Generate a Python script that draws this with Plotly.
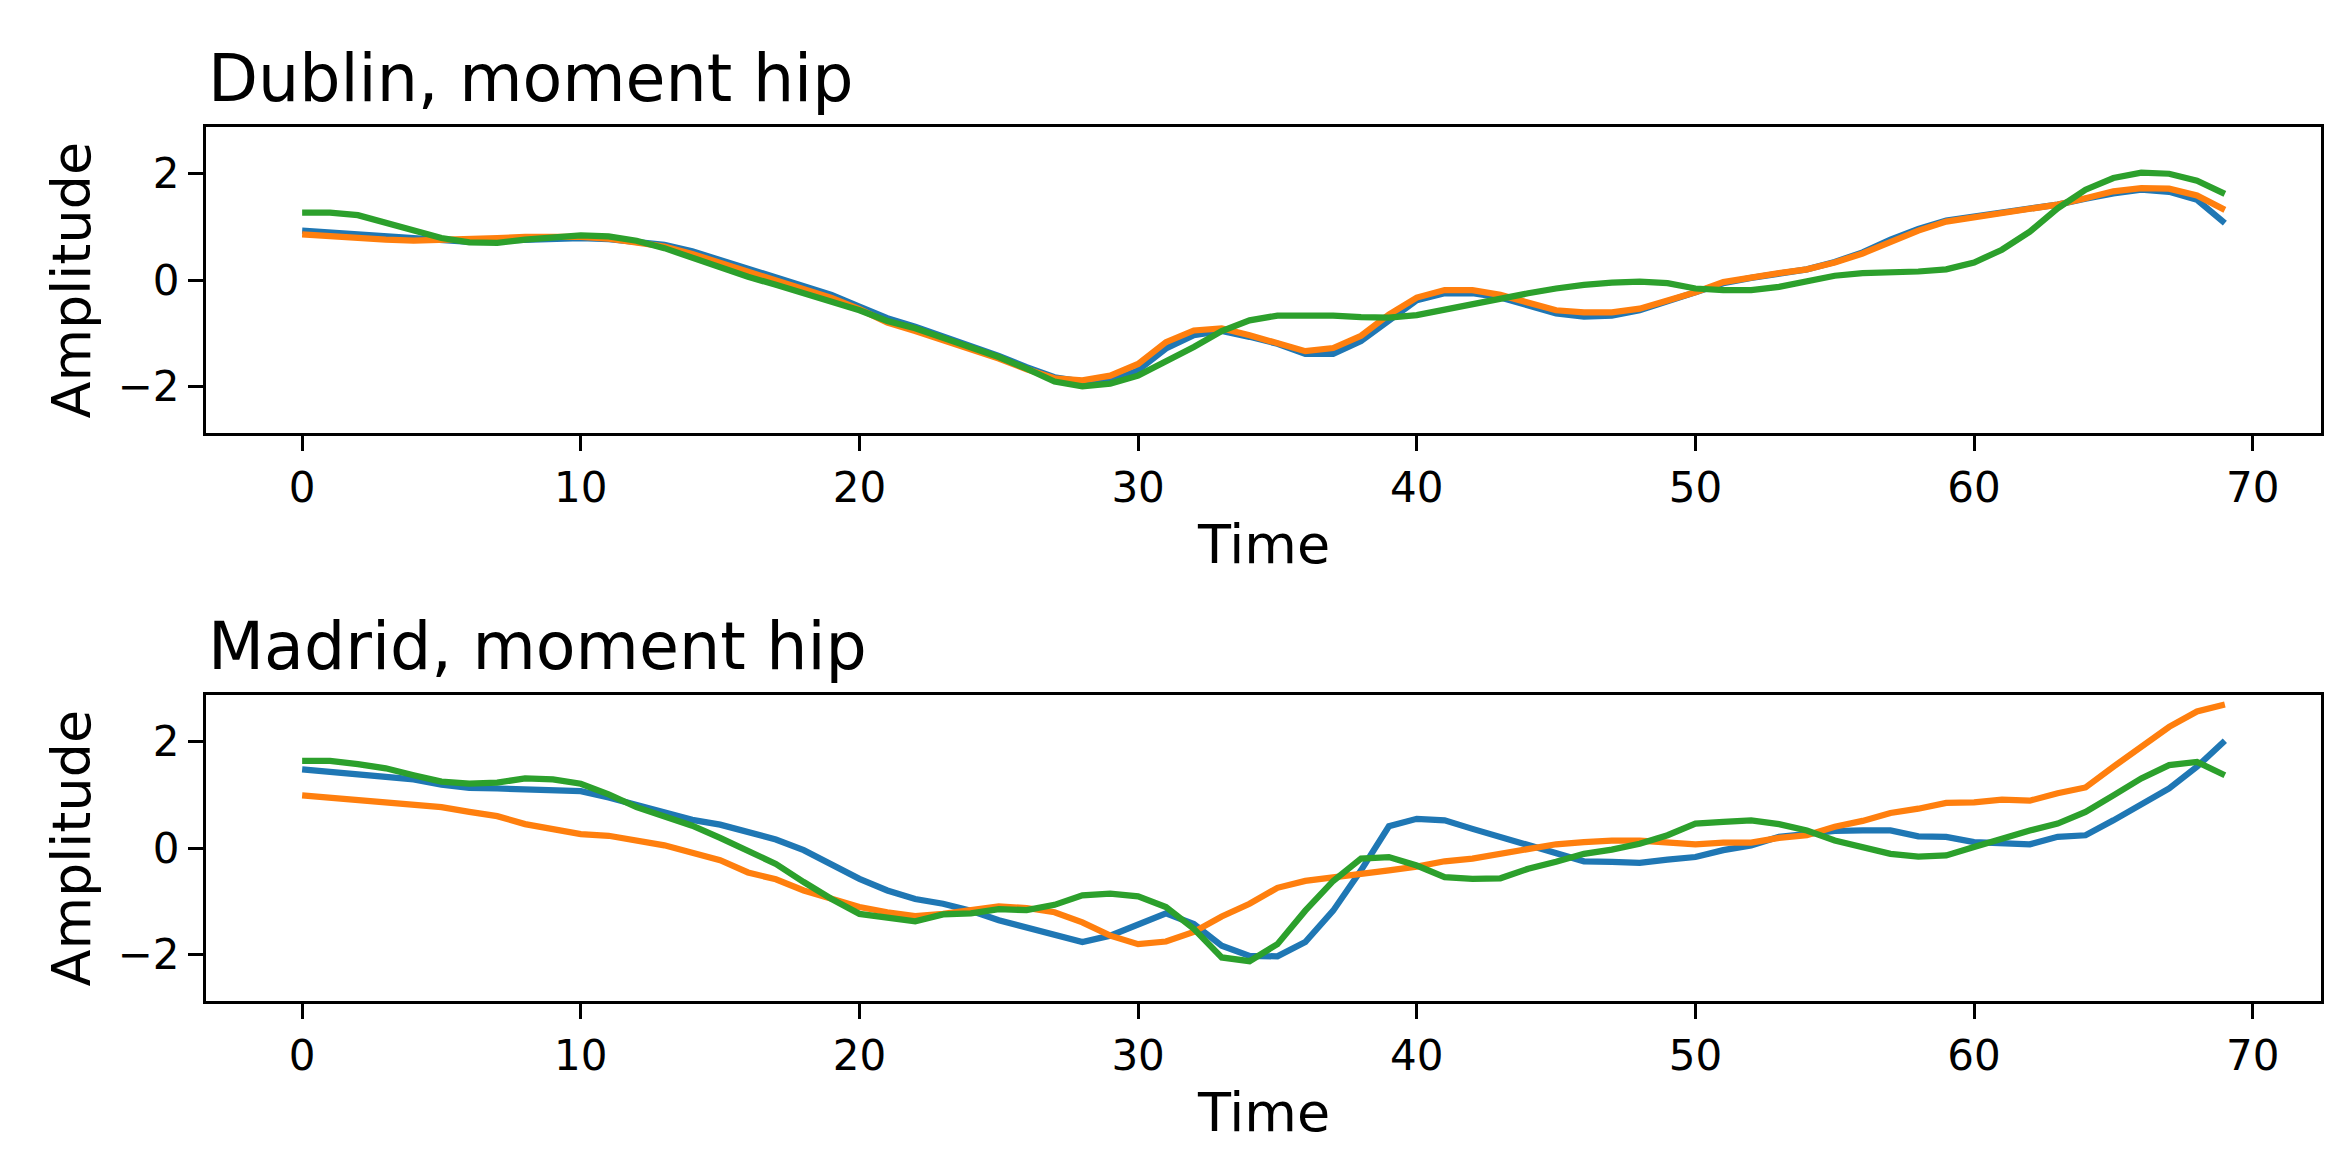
import plotly.graph_objects as go

# ---------------- data ----------------
time = list(range(70))

dublin_blue = [0.93, 0.90, 0.86, 0.83, 0.80, 0.76, 0.72, 0.74, 0.76, 0.78,
               0.79, 0.77, 0.72, 0.66, 0.54, 0.38, 0.22, 0.05, -0.11, -0.28,
               -0.50, -0.72, -0.88, -1.06, -1.24, -1.43, -1.64, -1.83, -1.91, -1.91,
               -1.70, -1.29, -1.04, -0.96, -1.07, -1.20, -1.39, -1.39, -1.15, -0.76,
               -0.38, -0.25, -0.25, -0.33, -0.47, -0.63, -0.69, -0.67, -0.57, -0.41,
               -0.25, -0.06, 0.04, 0.12, 0.20, 0.34, 0.52, 0.76, 0.96, 1.12,
               1.19, 1.26, 1.33, 1.42, 1.53, 1.63, 1.70, 1.66, 1.51, 1.07]
dublin_orange = [0.86, 0.82, 0.79, 0.76, 0.74, 0.75, 0.77, 0.79, 0.81, 0.82,
                 0.81, 0.78, 0.71, 0.63, 0.49, 0.32, 0.15, -0.01, -0.17, -0.34,
                 -0.55, -0.80, -0.96, -1.13, -1.30, -1.48, -1.68, -1.85, -1.89, -1.80,
                 -1.58, -1.17, -0.95, -0.91, -1.04, -1.18, -1.34, -1.28, -1.05, -0.65,
                 -0.33, -0.19, -0.19, -0.28, -0.41, -0.57, -0.61, -0.61, -0.54, -0.40,
                 -0.23, -0.04, 0.05, 0.13, 0.20, 0.33, 0.50, 0.72, 0.93, 1.10,
                 1.18, 1.26, 1.34, 1.42, 1.54, 1.67, 1.73, 1.72, 1.59, 1.32]
dublin_green = [1.27, 1.27, 1.22, 1.08, 0.93, 0.79, 0.71, 0.70, 0.76, 0.81,
                0.84, 0.82, 0.74, 0.60, 0.41, 0.23, 0.06, -0.09, -0.24, -0.40,
                -0.57, -0.77, -0.91, -1.09, -1.27, -1.45, -1.67, -1.91, -2.00, -1.95,
                -1.80, -1.54, -1.26, -0.96, -0.76, -0.67, -0.66, -0.67, -0.70, -0.71,
                -0.66, -0.55, -0.44, -0.35, -0.25, -0.16, -0.09, -0.05, -0.03, -0.06,
                -0.16, -0.19, -0.19, -0.13, -0.01, 0.08, 0.13, 0.14, 0.16, 0.20,
                0.33, 0.57, 0.91, 1.35, 1.70, 1.92, 2.02, 2.00, 1.87, 1.62]

madrid_blue = [1.48, 1.43, 1.39, 1.35, 1.29, 1.19, 1.13, 1.12, 1.11, 1.09,
               1.07, 0.95, 0.81, 0.68, 0.53, 0.44, 0.31, 0.16, -0.04, -0.31,
               -0.58, -0.80, -0.96, -1.05, -1.18, -1.36, -1.50, -1.64, -1.77, -1.65,
               -1.44, -1.23, -1.43, -1.84, -2.03, -2.04, -1.77, -1.18, -0.42, 0.41,
               0.55, 0.52, 0.36, 0.21, 0.04, -0.11, -0.25, -0.26, -0.28, -0.22,
               -0.17, -0.04, 0.05, 0.21, 0.27, 0.32, 0.33, 0.33, 0.22, 0.21,
               0.11, 0.10, 0.07, 0.21, 0.24, 0.52, 0.81, 1.12, 1.53, 2.02]
madrid_orange = [0.99, 0.95, 0.90, 0.86, 0.82, 0.77, 0.68, 0.60, 0.45, 0.36,
                 0.26, 0.23, 0.13, 0.05, -0.09, -0.23, -0.46, -0.59, -0.80, -0.97,
                 -1.11, -1.21, -1.28, -1.24, -1.16, -1.10, -1.13, -1.21, -1.40, -1.65,
                 -1.81, -1.76, -1.58, -1.29, -1.05, -0.75, -0.62, -0.56, -0.50, -0.42,
                 -0.35, -0.25, -0.20, -0.11, -0.01, 0.07, 0.11, 0.14, 0.14, 0.11,
                 0.07, 0.10, 0.10, 0.19, 0.24, 0.40, 0.51, 0.66, 0.74, 0.85,
                 0.86, 0.91, 0.89, 1.03, 1.14, 1.53, 1.91, 2.28, 2.57, 2.70]
madrid_green = [1.64, 1.64, 1.58, 1.50, 1.37, 1.25, 1.21, 1.23, 1.31, 1.29,
                1.21, 1.01, 0.77, 0.58, 0.42, 0.19, -0.04, -0.30, -0.64, -0.96,
                -1.24, -1.30, -1.38, -1.25, -1.23, -1.15, -1.17, -1.07, -0.89, -0.86,
                -0.91, -1.11, -1.52, -2.06, -2.13, -1.81, -1.18, -0.62, -0.20, -0.17,
                -0.33, -0.55, -0.58, -0.57, -0.39, -0.26, -0.11, -0.03, 0.08, 0.24,
                0.46, 0.49, 0.52, 0.45, 0.33, 0.14, 0.02, -0.11, -0.16, -0.14,
                0.02, 0.18, 0.33, 0.46, 0.68, 0.99, 1.31, 1.56, 1.62, 1.37]

x_ticks = [0, 10, 20, 30, 40, 50, 60, 70]
y_ticks = [-2, 0, 2]
y_ticktext = ["\u22122", "0", "2"]
titles = ["Dublin, moment hip", "Madrid, moment hip"]
colors = ["#1f77b4", "#ff7f0e", "#2ca02c"]

# ---------------- layout geometry ----------------
W, H = 2351, 1171
FONT = "DejaVu Sans"
x_dom = [198 / W, 2313 / W]
top_dom = [1 - 425 / H, 1 - 119 / H]
bot_dom = [1 - 993 / H, 1 - 687 / H]

fig = go.Figure()
series = [(dublin_blue, dublin_orange, dublin_green, "x", "y"),
          (madrid_blue, madrid_orange, madrid_green, "x2", "y2")]
for blue, orange, green, xa, ya in series:
    for vals, c in zip((blue, orange, green), colors):
        fig.add_trace(go.Scatter(x=time, y=vals, mode="lines", xaxis=xa, yaxis=ya,
                                 line=dict(color=c, width=6.25), showlegend=False,
                                 hoverinfo="skip"))

axis_common = dict(showline=True, mirror=True, linecolor="black", linewidth=3.3,
                   ticks="outside", ticklen=15, tickwidth=3.3, tickcolor="black",
                   showgrid=False, zeroline=False,
                   tickfont=dict(family=FONT, size=42, color="black"))

fig.update_layout(
    width=W, height=H,
    margin=dict(l=0, r=0, t=0, b=0),
    paper_bgcolor="white", plot_bgcolor="white",
    xaxis=dict(domain=x_dom, anchor="y", range=[-3.45, 72.45], tickvals=x_ticks, **axis_common),
    yaxis=dict(domain=top_dom, anchor="x", range=[-2.88, 2.88], tickvals=y_ticks,
               ticktext=y_ticktext, **axis_common),
    xaxis2=dict(domain=x_dom, anchor="y2", range=[-3.45, 72.45], tickvals=x_ticks, **axis_common),
    yaxis2=dict(domain=bot_dom, anchor="x2", range=[-2.88, 2.88], tickvals=y_ticks,
                ticktext=y_ticktext, **axis_common),
)

annotations = []
xmid = (x_dom[0] + x_dom[1]) / 2
for dom, title in ((top_dom, titles[0]), (bot_dom, titles[1])):
    annotations.append(dict(text=title, xref="paper", yref="paper", x=x_dom[0], y=dom[1],
                            xanchor="left", yanchor="bottom", yshift=9, showarrow=False,
                            font=dict(family=FONT, size=65, color="black")))
    annotations.append(dict(text="Time", xref="paper", yref="paper", x=xmid, y=dom[0],
                            xanchor="center", yanchor="top", yshift=-78, showarrow=False,
                            font=dict(family=FONT, size=54, color="black")))
    annotations.append(dict(text="Amplitude", xref="paper", yref="paper", x=63.5 / W,
                            y=(dom[0] + dom[1]) / 2, xanchor="center", yanchor="middle",
                            textangle=-90, showarrow=False,
                            font=dict(family=FONT, size=54, color="black")))
fig.update_layout(annotations=annotations)

fig.write_html("out.html")
